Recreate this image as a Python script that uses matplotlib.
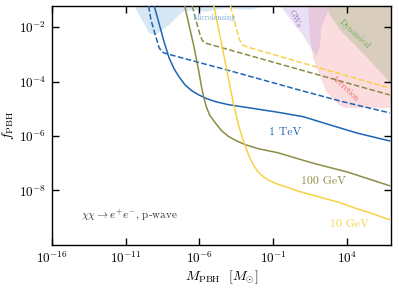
#!/usr/bin/env python3
# PBH fraction bounds, chi chi -> e+ e-, p-wave

import numpy as np
import matplotlib
matplotlib.use('Agg')
import matplotlib.pyplot as plt
from matplotlib import rcParams
from matplotlib.ticker import NullLocator

rcParams['font.family'] = 'serif'
rcParams['font.serif'] = ['cmr10', 'DejaVu Serif']
rcParams['mathtext.fontset'] = 'cm'
rcParams['axes.formatter.use_mathtext'] = True
rcParams['axes.unicode_minus'] = False

# curves, log10(M/Msun) vs log10(f_PBH)
tev_x = [-9.06, -8.72, -8.39, -8.05, -7.71, -7.37, -6.97, -6.50, -6.03, -5.49, -4.88, -4.01,
         -2.66, -0.64, 1.05, 2.73, 4.75, 6.91]
tev_y = [-1.22, -1.88, -2.54, -3.13, -3.53, -3.83, -4.12, -4.34, -4.49, -4.63, -4.74, -4.85,
         -4.96, -5.13, -5.29, -5.57, -5.90, -6.18]
tev_dash_x = [-9.44, -9.28, -8.99, -8.72, -8.52, -8.32, -3.80, 0.71, 3.74, 6.91]
tev_dash_y = [-1.22, -1.73, -2.28, -2.76, -2.91, -2.96, -3.62, -4.30, -4.74, -5.15]

gev100_x = [-6.99, -6.70, -6.36, -6.03, -5.85, -5.70, -5.52, -5.30, -4.90, -4.48, -4.01, -3.47,
            -2.88, -1.97, -0.64, 0.71, 1.86, 4.08, 6.91]
gev100_y = [-1.22, -1.92, -2.72, -3.64, -4.20, -4.58, -4.93, -5.23, -5.53, -5.81, -6.02, -6.18,
            -6.32, -6.47, -6.62, -6.84, -7.02, -7.33, -7.83]
gev100_dash_x = [-6.48, -6.23, -5.99, -5.82, -5.62, 6.91]
gev100_dash_y = [-1.22, -1.73, -2.21, -2.47, -2.58, -4.49]

gev10_x = [-5.02, -4.68, -4.34, -4.01, -3.67, -3.33, -3.06, -2.79, -2.52, -2.25, -1.95, -1.60,
           -1.20, -0.70, 0.04, 0.71, 2.06, 3.41, 4.55, 5.77, 6.91]
gev10_y = [-1.22, -2.10, -3.02, -3.94, -4.85, -5.62, -6.10, -6.51, -6.87, -7.14, -7.36, -7.52,
           -7.65, -7.77, -7.90, -8.03, -8.23, -8.43, -8.65, -8.86, -9.08]
gev10_dash_x = [-3.89, -3.67, -3.47, -3.26, -3.06, -2.79, 6.91]
gev10_dash_y = [-1.22, -1.66, -2.10, -2.47, -2.65, -2.72, -4.24]

# excluded regions (lower boundary, filled up to the top)
micro_x = [-10.41, -9.40, -8.94, -8.05, -7.15, -6.48, -5.58, -4.23, -2.66, -1.53, -0.97]
micro_y = [-1.22, -2.22, -2.28, -1.92, -1.43, -1.36, -1.43, -1.30, -1.36, -1.25, -1.22]
gw_x = [-0.52, 0.93, 1.94, 2.17, 2.28, 2.62, 2.85]
gw_y = [-1.22, -2.22, -3.08, -2.71, -1.98, -1.55, -1.22]
accr_x = [1.39, 1.50, 1.72, 2.06, 2.62, 3.45, 3.86, 7.5]
accr_y = [-1.22, -2.40, -3.14, -3.63, -4.37, -4.85, -4.97, -4.97]
dyn_x = [2.62, 2.85, 3.63, 5.21, 6.78, 7.5]
dyn_y = [-1.22, -1.55, -2.16, -3.02, -3.94, -4.40]

blue = '#1e64b4'
olive = '#8c8c46'
yellow = '#f8d246'

fig = plt.figure(figsize=(3.99, 2.88), dpi=100)
ax = fig.add_axes([0.130, 0.150, 0.850, 0.829])

def p(v):
  return 10.0 ** np.asarray(v)

def region(xs, ys, **kw):
  xs = list(xs) + [xs[-1], xs[0]]
  ys = list(ys) + [1.0, 1.0]
  ax.fill(p(xs), p(ys), lw=0, **kw)

region(micro_x, micro_y, color='#7fb0dc', alpha=0.3, zorder=1)
region(accr_x, accr_y, color='#f28b95', alpha=0.3, zorder=1)
region(gw_x, gw_y, color='#b79ae0', alpha=0.3, zorder=1)
region(dyn_x, dyn_y, color='#d9cdbd', alpha=1.0, zorder=1)

kw = dict(lw=1.1, zorder=3, solid_joinstyle='round')
ax.plot(p(tev_x), p(tev_y), color=blue, **kw)
ax.plot(p(tev_dash_x), p(tev_dash_y), color=blue, ls='--', **kw)
ax.plot(p(gev100_x), p(gev100_y), color=olive, **kw)
ax.plot(p(gev100_dash_x), p(gev100_dash_y), color=olive, ls='--', **kw)
ax.plot(p(gev10_x), p(gev10_y), color=yellow, **kw)
ax.plot(p(gev10_dash_x), p(gev10_dash_y), color=yellow, ls='--', **kw)

ax.text(p(-0.16), p(-5.87), '1 TeV', color=blue, fontsize=8.5, ha='center', va='center')
ax.text(p(2.4), p(-7.67), '100 GeV', color=olive, fontsize=8.5, ha='center', va='center')
ax.text(p(4.2), p(-9.26), '10 GeV', color=yellow, fontsize=8.5, ha='center', va='center')

ax.text(p(-4.97), p(-1.67), 'Microlensing', color='#6fa8d8', fontsize=5.6, ha='center', va='center')
ax.text(p(0.44), p(-1.67), 'GWs', color='#9b7dc8', fontsize=6.2, ha='center', va='center', rotation=-65)
ax.text(p(3.88), p(-4.23), 'Accretion', color='#e8606a', fontsize=6, ha='center', va='center', rotation=-43)
ax.text(p(4.55), p(-2.25), 'Dynamical', color='#6cae5a', fontsize=6, ha='center', va='center', rotation=-43)

ax.text(p(-10.74), p(-8.93), r'$\chi\chi \rightarrow e^{+}e^{-}$, p-wave', color='#333333',
        fontsize=8, ha='center', va='center')

ax.set_xscale('log')
ax.set_yscale('log')
ax.set_xlim(1e-16, 1e7)
ax.set_ylim(1e-10, 6e-2)
ax.set_xticks([1e-16, 1e-11, 1e-6, 1e-1, 1e4])
ax.set_yticks([1e-8, 1e-6, 1e-4, 1e-2])
ax.xaxis.set_minor_locator(NullLocator())
ax.yaxis.set_minor_locator(NullLocator())
ax.tick_params(direction='in', top=True, right=True, length=5, width=1, labelsize=9.5, pad=4)
for s in ax.spines.values():
  s.set_linewidth(1.0)

ax.set_xlabel(r'$M_{\rm PBH}\ \ [M_{\odot}]$', fontsize=10, labelpad=2)
ax.set_ylabel(r'$f_{\rm PBH}$', fontsize=10, labelpad=2)

fig.savefig('out.png', dpi=100)
